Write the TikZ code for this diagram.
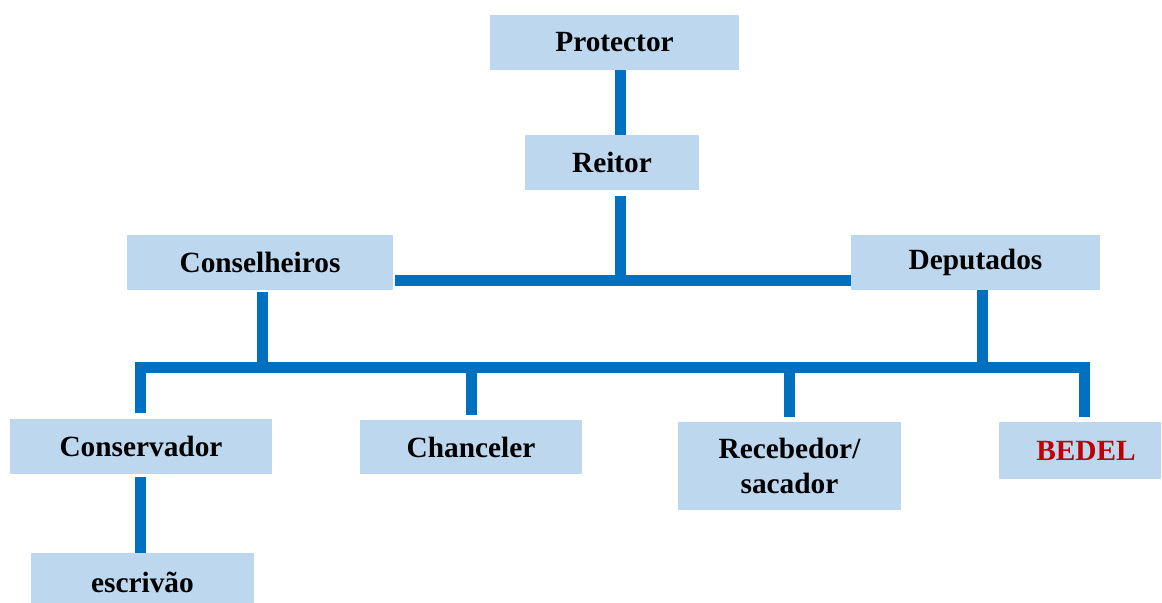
\documentclass[tikz,border=0pt]{standalone}
\usepackage{fontspec}
\setmainfont{Liberation Serif}
\definecolor{boxblue}{HTML}{BDD7EE}
\definecolor{linkblue}{HTML}{0070C0}
\definecolor{bedelred}{HTML}{C00000}
\tikzset{
  post/.style={fill=boxblue, inner sep=0pt, align=center,
    font=\bfseries\fontsize{16.7}{19.5}\selectfont},
  link/.style={draw=linkblue, line width=0.22cm}
}
\begin{document}
\begin{tikzpicture}[x=0.02cm,y=-0.02cm]
\useasboundingbox (0,0) rectangle (1162,602);
\clip (0,0) rectangle (1162,602);
% boxes
\node[post, minimum width=4.98cm, minimum height=1.10cm] (protector) at (614.5,42.5) {Protector};
\node[post, minimum width=3.48cm, minimum height=1.10cm] (reitor) at (612,162.5) {Reitor};
\node[post, minimum width=5.32cm, minimum height=1.10cm] (conselheiros) at (260,262.5) {Conselheiros};
\node[post, minimum width=4.98cm, minimum height=1.10cm] (deputados) at (975.5,262.5) {Deputados};
\node[post, minimum width=5.24cm, minimum height=1.10cm] (conservador) at (141,446.5) {Conservador};
\node[post, minimum width=4.44cm, minimum height=1.08cm] (chanceler) at (471,447) {Chanceler};
\node[post, minimum width=4.46cm, minimum height=1.76cm] (recebedor) at (789.5,466) {Recebedor/\\sacador};
\node[post, minimum width=3.24cm, minimum height=1.14cm, text=bedelred] (bedel) at (1080,450.5) {\hspace{0.24cm}BEDEL};
\node[post, minimum width=4.46cm, minimum height=1.16cm] (escrivao) at (142.5,582) {escrivão};
% junctions
\coordinate (jtop) at (620.5,280.5);
\coordinate (jleft) at (262,367);
\coordinate (jright) at (982,367);
\coordinate (bl) at (140,367);
\coordinate (br) at (1084,367);
% connectors
\draw[link] (protector.south -| jtop) -- (reitor.north -| jtop);
\draw[link, shorten <=0.12cm] (reitor.south -| jtop) -- (jtop);
\draw[link, shorten <=0.04cm] (conselheiros.east |- jtop) -- (deputados.west |- jtop);
\draw[link, shorten <=0.04cm] (conselheiros.south -| jleft) -- (jleft);
\draw[link] (deputados.south -| jright) -- (jright);
\draw[link, shorten <=0.12cm, shorten >=0.10cm] (bl |- conservador.north) -- (bl) -- (br) -- (br |- bedel.north);
\draw[link, shorten >=0.10cm] (chanceler.north |- bl) -- (chanceler.north);
\draw[link, shorten >=0.10cm] (recebedor.north |- bl) -- (recebedor.north);
\draw[link, shorten <=0.06cm] (conservador.south -| bl) -- (escrivao.north -| bl);
\end{tikzpicture}
\end{document}
